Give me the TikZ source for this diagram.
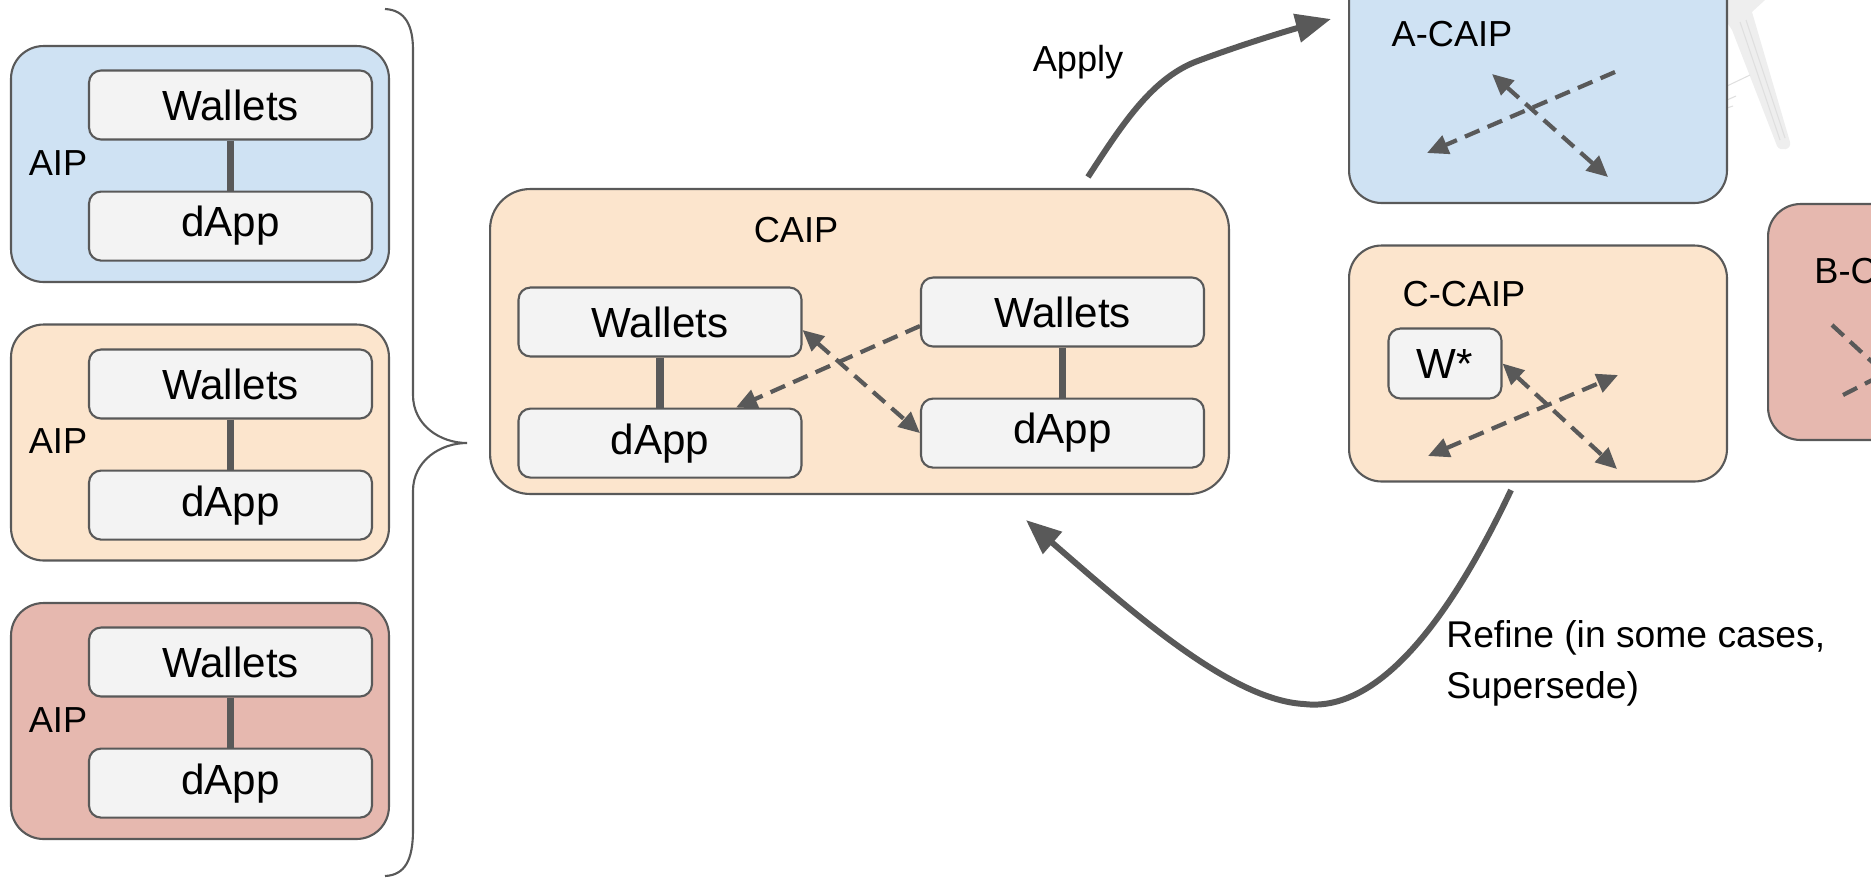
\documentclass[tikz,border=0pt]{standalone}
\usepackage{fontspec}
\setmainfont{Liberation Sans}
\usepackage{tikz}
\usetikzlibrary{shapes,arrows,arrows.meta}
\usetikzlibrary{positioning}
\definecolor{aipblue}{HTML}{CFE2F3}
\definecolor{aiporange}{HTML}{FCE5CD}
\definecolor{aipred}{HTML}{E6B8AF}
\definecolor{partgray}{HTML}{F3F3F3}
\definecolor{edgegray}{HTML}{595959}
\tikzstyle{group} = [draw=edgegray, line width=1.2pt, rounded corners=0.65cm,
minimum width=7.56cm, minimum height=4.72cm, inner sep=0pt]
\tikzstyle{part} = [draw=edgegray, line width=1.2pt, rounded corners=0.24cm, fill=partgray,
minimum width=5.66cm, minimum height=1.38cm, inner sep=0pt, font=\fontsize{24}{28}\selectfont]
\tikzstyle{tag} = [inner sep=0pt, font=\fontsize{20.6}{28.4}\selectfont]
\tikzstyle{link} = [draw=edgegray, line width=4.4pt]
\tikzstyle{line} = [draw=edgegray, line width=3.4pt, -{Triangle[length=20pt,width=16pt]}]
\tikzstyle{flow} = [draw=edgegray, line width=2.4pt, dash pattern=on 9pt off 5pt]
\tikzset{flowtip/.tip={Triangle[length=12pt,width=11pt]}}

\begin{document}
\begin{tikzpicture}[x=0.02cm, y=-0.02cm, node distance=1cm]
    \clip (0,0) rectangle (1871,880);
	%% AIP groups
    \node [group, fill=aipblue] (G1) at (200,164) {};
    \node [part] (W1) at (230.5,105) {Wallets};
    \node [part, below=of W1] (D1) {dApp};
    \node [tag] (T1) at (58,163) {AIP};
    \node [group, fill=aiporange] (G2) at (200,442.5) {};
    \node [part] (W2) at (230.5,384) {Wallets};
    \node [part, below=of W2] (D2) {dApp};
    \node [tag] (T2) at (58,441) {AIP};
    \node [group, fill=aipred] (G3) at (200,721) {};
    \node [part] (W3) at (230.5,662) {Wallets};
    \node [part, below=of W3] (D3) {dApp};
    \node [tag] (T3) at (58,720) {AIP};
    \path [link] (W1) -- (D1);
    \path [link] (W2) -- (D2);
    \path [link] (W3) -- (D3);
    \draw [edgegray, line width=1.2pt] (385,9) .. controls (405,10) and (413,25) .. (413,50)
        -- (413,395) .. controls (413,425) and (440,443) .. (467,443)
        .. controls (440,443) and (413,461) .. (413,491) -- (413,830)
        .. controls (413,860) and (405,875) .. (385,876);
	%% CAIP
    \node [group, fill=aiporange, minimum width=14.78cm, minimum height=6.1cm,
        rounded corners=0.8cm] (C) at (859.5,341.5) {};
    \node [tag] (TC) at (796,230) {CAIP};
    \node [part] (CW1) at (660,322) {Wallets};
    \node [part, below=of CW1] (CD1) {dApp};
    \node [part] (CW2) at (1062.5,312) {Wallets};
    \node [part, below=of CW2] (CD2) {dApp};
    \path [link] (CW1) -- (CD1);
    \path [link] (CW2) -- (CD2);
    \path [flow, -flowtip] ([yshift=-0.28cm]CW2.west) -- ([xshift=1.52cm]CD1.north);
    \path [flow, flowtip-flowtip] ([yshift=-0.16cm]CW1.east) -- (CD2.west);
	%% Chain-specific CAIPs
    \fill [gray!13] (1724,0) -- (1765,0) -- (1752,12) -- (1790,142)
        .. controls (1792,150) and (1780,152) .. (1777,146) -- (1732,30) -- (1724,18) -- cycle;
    \draw [gray!25, line width=0.6pt] (1740,22) -- (1780,140) (1746,20) -- (1785,138)
        (1727,86) -- (1750,75) (1727,100) -- (1736,96) (1727,108) -- (1733,106);
    \node [group, fill=aipblue] (A) at (1538,85) {};
    \node [tag] (TA) at (1452,34) {A-CAIP};
    \coordinate (a1) at (1615,72);
    \coordinate (a2) at (1427,153);
    \coordinate (a3) at (1492,74);
    \coordinate (a4) at (1608,177);
    \path [flow, -flowtip] (a1) -- (a2);
    \path [flow, flowtip-flowtip] (a3) -- (a4);
    \node [group, fill=aiporange] (CC) at (1538,363.5) {};
    \node [tag] (TCC) at (1464,294) {C-CAIP};
    \node [part, minimum width=2.26cm, minimum height=1.4cm] (WS) at (1445,363.5) {W*};
    \coordinate (c1) at (1617,469);
    \coordinate (c2) at (1428,456);
    \coordinate (c3) at (1618,375);
    \path [flow, flowtip-flowtip] (WS.east) -- (c1);
    \path [flow, flowtip-flowtip] (c2) -- (c3);
    \node [group, fill=aipred] (B) at (1957,322) {};
    \node [tag, anchor=west] (TB) at (1814,271) {B-CAIP};
    \coordinate (b1) at (1832,325);
    \coordinate (b2) at (1935,420);
    \coordinate (b3) at (1843,395);
    \coordinate (b4) at (1960,335);
    \path [flow, -flowtip] (b1) -- (b2);
    \path [flow, -flowtip] (b3) -- (b4);
	%% Apply and refine
    \path [line] ([xshift=4.57cm,yshift=0.22cm]C.north) .. controls (1120,128) and (1150,80) .. (1195,62)
        .. controls (1240,45) and (1290,30) .. ([xshift=-0.34cm,yshift=1.32cm]A.west);
    \node [tag] (TApply) at (1078,62) {Apply};
    \path [line] ([xshift=-0.54cm,yshift=-0.15cm]CC.south) .. controls (1440,640) and (1370,712) .. (1304,704)
        .. controls (1230,700) and (1130,610) .. ([xshift=3.33cm,yshift=-0.5cm]C.south);
    \node [tag, anchor=west, align=left, font=\fontsize{21.2}{29}\selectfont] (TRefine) at (1446,663)
        {Refine (in some cases,\\Supersede)};
\end{tikzpicture}
\end{document}
